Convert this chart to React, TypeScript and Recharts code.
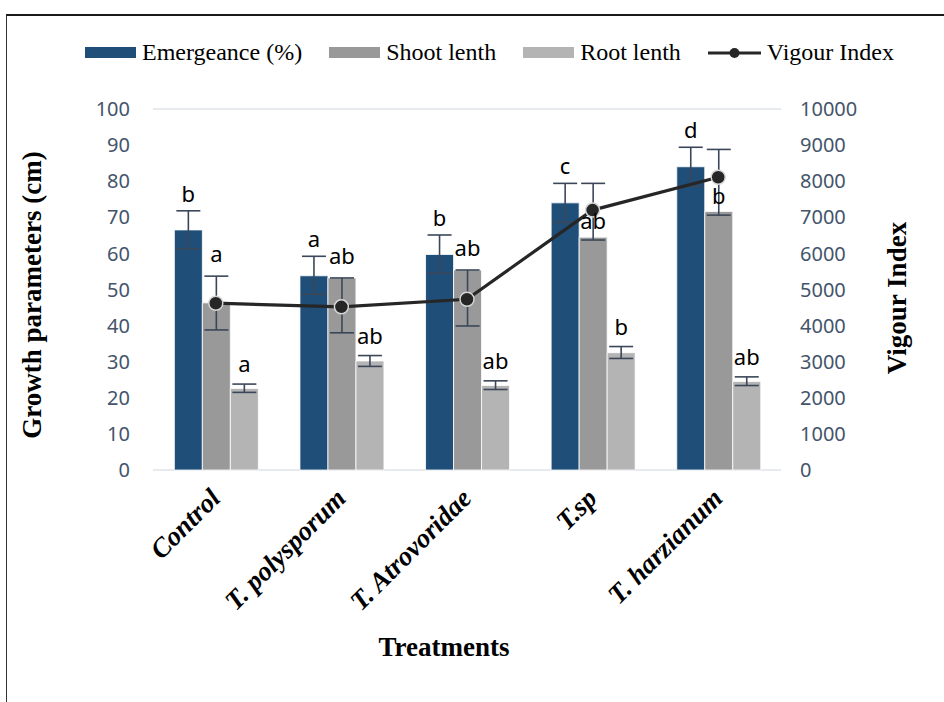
import React from "react"
import {
  ComposedChart,
  Bar,
  Line,
  XAxis,
  YAxis,
  CartesianGrid,
  ErrorBar,
  LabelList,
} from "recharts"

// treatments on the x axis
const treatments = ["Control", "T. polysporum", "T. Atrovoridae", "T.sp", "T. harzianum"]

// Emergeance (%)
const emergence = [66.5, 53.8, 59.7, 74.0, 84.0]
const emergenceErr = [[5.2, 5.3], [5.1, 5.4], [5.2, 5.4], [5.4, 5.4], [5.4, 5.4]]
const emergenceLetters = ["b", "a", "b", "c", "d"]

// Shoot lenth (cm)
const shoot = [46.3, 53.2, 55.4, 64.5, 71.6]
const shootErr = [[7.5, 7.4], [15.2, 0], [15.5, 0], [0.8, 14.9], [1.0, 17.2]]
const shootLetters = ["a", "ab", "ab", "ab", "b"]
const shootLetterOnBar = [false, false, false, true, true]

// Root lenth (cm)
const root = [22.6, 30.2, 23.4, 32.5, 24.5]
const rootErr = [[1.1, 1.2], [1.5, 1.5], [1.1, 1.3], [1.6, 1.7], [1.1, 1.3]]
const rootLetters = ["a", "ab", "ab", "b", "ab"]

// Vigour Index (right axis)
const vigour = [4620, 4520, 4730, 7200, 8110]

const leftTicks = [0, 10, 20, 30, 40, 50, 60, 70, 80, 90, 100]
const rightTicks = [0, 1000, 2000, 3000, 4000, 5000, 6000, 7000, 8000, 9000, 10000]

const BLUE = "#1f4e79"
const GRAY = "#999999"
const LIGHT = "#b4b4b4"
const LINE = "#262626"
const ERR = "#3b4759"
const TICK = "#44546a"
const SERIF = "'Liberation Serif', 'Times New Roman', serif"
const SANS = "'Noto Sans', 'Open Sans', sans-serif"

const data = treatments.map((name, i) => ({
  name,
  idx: i,
  emergence: emergence[i],
  emergenceErr: emergenceErr[i],
  shoot: shoot[i],
  shootErr: shootErr[i],
  root: root[i],
  rootErr: rootErr[i],
  vigour: vigour[i],
}))

const legendItems = [
  { label: "Emergeance (%)", color: BLUE, kind: "bar" },
  { label: "Shoot lenth", color: GRAY, kind: "bar" },
  { label: "Root lenth", color: LIGHT, kind: "bar" },
  { label: "Vigour Index", color: LINE, kind: "line" },
]

// letter above the error bar (or on the bar top when flagged)
function letterContent(
  letters: string[],
  vals: number[],
  errs: number[][],
  gap: number,
  onBar?: boolean[]
) {
  return (props: any) => {
    const { x, y, width, height } = props
    const index = props.index ?? props.value
    if (index == null || letters[index] == null) return null
    const v = vals[index]
    const k = height / v
    const bottom = y + height
    const base =
      onBar && onBar[index] ? y - 8 : bottom - (v + errs[index][1]) * k - gap
    return (
      <text
        x={x + width / 2}
        y={base}
        textAnchor="middle"
        fontFamily={SANS}
        fontSize={22}
        fill="#000"
      >
        {letters[index]}
      </text>
    )
  }
}

function TreatmentTick({ x, payload }: any) {
  const ax = x + 6
  const ay = 500
  return (
    <text
      x={ax}
      y={ay}
      textAnchor="end"
      transform={`rotate(-45, ${ax}, ${ay})`}
      fontFamily={SERIF}
      fontWeight="bold"
      fontStyle="italic"
      fontSize={27}
      fill="#000"
    >
      {payload.value}
    </text>
  )
}

function Legend() {
  return (
    <div
      style={{
        position: "absolute",
        left: 85,
        top: 39,
        display: "flex",
        alignItems: "center",
        fontFamily: SERIF,
        fontSize: 24,
        color: "#000",
        whiteSpace: "nowrap",
      }}
    >
      {legendItems.map((item) => (
        <div key={item.label} style={{ display: "flex", alignItems: "center", marginRight: 27 }}>
          {item.kind === "bar" ? (
            <div style={{ width: 51, height: 11, background: item.color, marginRight: 6 }} />
          ) : (
            <svg width={53} height={14} style={{ marginRight: 6 }}>
              <line x1={0} y1={7} x2={53} y2={7} stroke={item.color} strokeWidth={3} />
              <circle cx={26.5} cy={7} r={5} fill={item.color} />
            </svg>
          )}
          <span>{item.label}</span>
        </div>
      ))}
    </div>
  )
}

const titleStyle: React.CSSProperties = {
  position: "absolute",
  fontFamily: SERIF,
  fontWeight: "bold",
  fontSize: 27,
  whiteSpace: "nowrap",
  color: "#000",
}

export default function App() {
  return (
    <div
      style={{
        position: "fixed",
        left: 0,
        top: 0,
        width: 944,
        height: 702,
        background: "#fff",
        overflow: "hidden",
      }}
    >
      <div
        style={{
          position: "absolute",
          left: 6,
          top: 14,
          width: 1000,
          height: 800,
          borderTop: "2px solid #1a1a1a",
          borderLeft: "1.5px solid #333",
        }}
      />
      <div style={{ position: "absolute", left: 0, top: 0 }}>
        <ComposedChart
          width={944}
          height={702}
          data={data}
          margin={{ top: 109, right: 63, bottom: 172, left: 0 }}
          barCategoryGap="17%"
          barGap={0}
        >
          <CartesianGrid vertical={false} stroke="#dfe3e9" strokeWidth={1.5} />
          <XAxis
            dataKey="name"
            axisLine={false}
            tickLine={false}
            height={60}
            interval={0}
            tick={<TreatmentTick />}
          />
          <YAxis
            yAxisId="left"
            orientation="left"
            width={153}
            domain={[0, 100]}
            ticks={leftTicks}
            axisLine={false}
            tickLine={false}
            tickMargin={17}
            tick={{ fill: TICK, fontSize: 20, fontFamily: SANS }}
          />
          <YAxis
            yAxisId="right"
            orientation="right"
            width={100}
            domain={[0, 10000]}
            ticks={rightTicks}
            axisLine={false}
            tickLine={false}
            tickMargin={13}
            tick={{ fill: TICK, fontSize: 20, fontFamily: SANS, textAnchor: "start" }}
          />
          <Bar yAxisId="left" dataKey="emergence" fill={BLUE} stroke="#fff" strokeWidth={0.8} isAnimationActive={false}>
            <ErrorBar dataKey="emergenceErr" width={12} stroke={ERR} strokeWidth={1.6} direction="y" />
            <LabelList dataKey="idx" content={letterContent(emergenceLetters, emergence, emergenceErr, 9)} />
          </Bar>
          <Bar yAxisId="left" dataKey="shoot" fill={GRAY} stroke="#fff" strokeWidth={0.8} isAnimationActive={false}>
            <ErrorBar dataKey="shootErr" width={12} stroke={ERR} strokeWidth={1.6} direction="y" />
            <LabelList
              dataKey="idx"
              content={letterContent(shootLetters, shoot, shootErr, 14, shootLetterOnBar)}
            />
          </Bar>
          <Bar yAxisId="left" dataKey="root" fill={LIGHT} stroke="#fff" strokeWidth={0.8} isAnimationActive={false}>
            <ErrorBar dataKey="rootErr" width={12} stroke={ERR} strokeWidth={1.6} direction="y" />
            <LabelList dataKey="idx" content={letterContent(rootLetters, root, rootErr, 12)} />
          </Bar>
          <Line
            yAxisId="right"
            dataKey="vigour"
            stroke={LINE}
            strokeWidth={3.2}
            dot={{ r: 7, fill: LINE, stroke: "#d6d6d6", strokeWidth: 1.5 }}
            isAnimationActive={false}
          />
        </ComposedChart>
      </div>
      <Legend />
      <div style={{ ...titleStyle, left: 32, top: 295, transform: "translate(-50%, -50%) rotate(-90deg)" }}>
        Growth parameters (cm)
      </div>
      <div style={{ ...titleStyle, left: 897, top: 298, transform: "translate(-50%, -50%) rotate(-90deg)" }}>
        Vigour Index
      </div>
      <div style={{ ...titleStyle, left: 444, top: 647, transform: "translate(-50%, -50%)" }}>
        Treatments
      </div>
    </div>
  )
}
